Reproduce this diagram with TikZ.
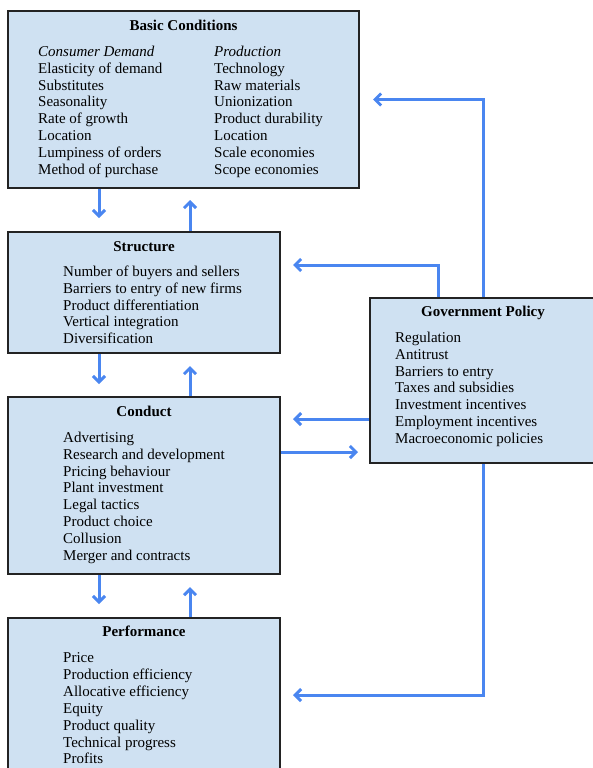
\documentclass[tikz,border=0pt]{standalone}
\usepackage{fontspec}
\setmainfont{Liberation Serif}
\usetikzlibrary{arrows.meta,calc}
\definecolor{boxfill}{RGB}{207,225,242}
\definecolor{arrblue}{RGB}{74,134,240}
\definecolor{boxline}{RGB}{35,35,35}
\begin{document}
\begin{tikzpicture}[x=1pt,y=-1pt,
  box/.style={draw=boxline, line width=2pt, fill=boxfill, rectangle, inner sep=0pt},
  arr/.style={draw=arrblue, line width=3pt, -{Straight Barb[length=6pt,width=12pt]}},
  ttl/.style={font=\fontsize{15}{17}\selectfont\bfseries, anchor=base, inner sep=0pt},
  itm/.style={font=\fontsize{15}{17}\selectfont, anchor=base west, inner sep=0pt}]
\useasboundingbox (0,0) rectangle (593,768);
\clip (0,0) rectangle (593,768);
% boxes
\node[box, minimum width=351pt, minimum height=177pt] (basic) at (183.5,99.5) {};
\node[box, minimum width=272pt, minimum height=121pt] (structure) at (144,292.5) {};
\node[box, minimum width=272pt, minimum height=177pt] (conduct) at (144,485.5) {};
\node[box, minimum width=272pt, minimum height=172pt] (performance) at (144,704) {};
\node[box, minimum width=240pt, minimum height=165pt] (gov) at (490,380.5) {};
% titles
\node[ttl] (tb) at (183.5,30.5) {Basic Conditions};
\node[ttl] (ts) at (144,251.5) {Structure};
\node[ttl] (tc) at (144,416.5) {Conduct};
\node[ttl] (tp) at (144,636.5) {Performance};
\node[ttl] (tg) at (483,316.5) {Government Policy};
% basic conditions
\node[itm] (cd) at (38,56.5) {\itshape Consumer Demand};
\node[itm] (pr) at (214,56.5) {\itshape Production};
\foreach \t [count=\i from 0] in {Elasticity of demand,Substitutes,Seasonality,Rate of growth,Location,Lumpiness of orders,Method of purchase}
  \node[itm] (bl\i) at (38,73.3+\i*16.8) {\t};
\foreach \t [count=\i from 0] in {Technology,Raw materials,Unionization,Product durability,Location,Scale economies,Scope economies}
  \node[itm] (br\i) at (214,73.3+\i*16.8) {\t};
% structure
\foreach \t [count=\i from 0] in {Number of buyers and sellers,Barriers to entry of new firms,Product differentiation,Vertical integration,Diversification}
  \node[itm] (s\i) at (63,276.5+\i*16.8) {\t};
% conduct
\foreach \t [count=\i from 0] in {Advertising,Research and development,Pricing behaviour,Plant investment,Legal tactics,Product choice,Collusion,Merger and contracts}
  \node[itm] (c\i) at (63,442.5+\i*16.8) {\t};
% performance
\foreach \t [count=\i from 0] in {Price,Production efficiency,Allocative efficiency,Equity,Product quality,Technical progress,Profits}
  \node[itm] (p\i) at (63,662.5+\i*16.9) {\t};
% government
\foreach \t [count=\i from 0] in {Regulation,Antitrust,Barriers to entry,Taxes and subsidies,Investment incentives,Employment incentives,Macroeconomic policies}
  \node[itm] (g\i) at (395,342.5+\i*16.8) {\t};
% connectors
\coordinate (cl) at (99,0);
\coordinate (cr) at (190,0);
\draw[arr, shorten >=13pt] (cl |- basic.south) -- (cl |- structure.north);
\draw[arr, shorten >=11pt] (cr |- structure.north) -- (cr |- basic.south);
\draw[arr, shorten >=12pt] (cl |- structure.south) -- (cl |- conduct.north);
\draw[arr, shorten >=12pt] (cr |- conduct.north) -- (cr |- structure.south);
\draw[arr, shorten >=13pt] (cl |- conduct.south) -- (cl |- performance.north);
\draw[arr, shorten >=12pt] (cr |- performance.north) -- (cr |- conduct.south);
\coordinate (ga) at (483,99);
\coordinate (gb) at (438,265);
\coordinate (sT) at (293,265);
\coordinate (cT) at (293,419);
\coordinate (gT) at (358,452);
\coordinate (pT) at (293,695);
\draw[arr, shorten >=13pt] (gov.north -| ga) |- (basic.east);
\draw[arr] (gov.north -| gb) |- (sT);
\draw[arr] (gov.west |- cT) -- (cT);
\draw[arr] (conduct.east |- gT) -- (gT);
\draw[arr] (gov.south -| ga) |- (pT);
\end{tikzpicture}
\end{document}
